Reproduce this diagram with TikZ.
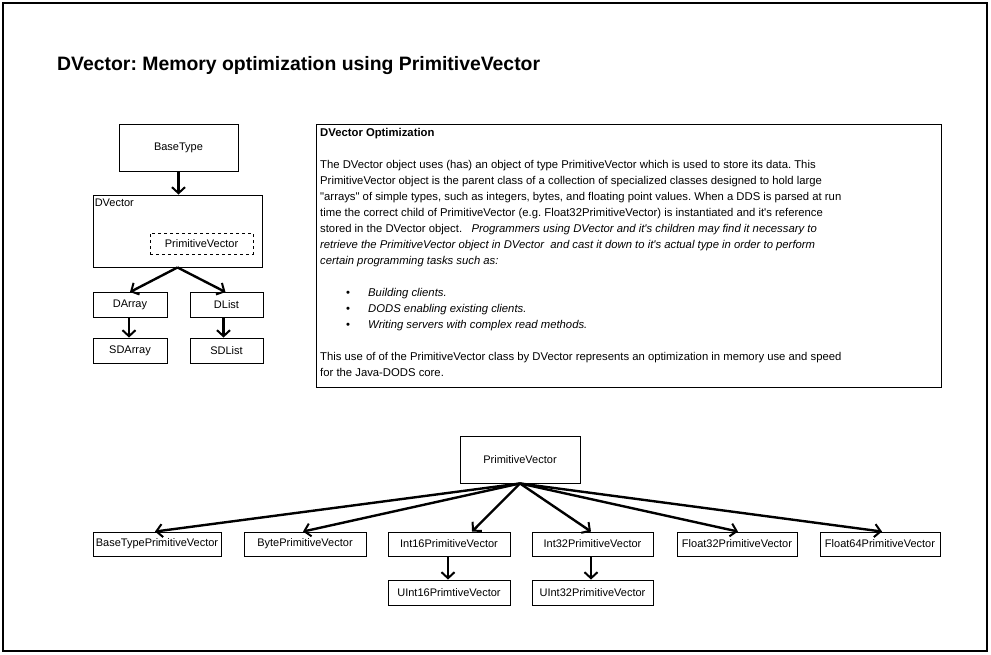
\documentclass[tikz,border=0pt]{standalone}
\usepackage{fontspec}
\setmainfont{Liberation Sans}[Ligatures=TeXOff]
\usetikzlibrary{arrows.meta,calc}
\frenchspacing
\begin{document}
\begin{tikzpicture}[x=1pt,y=-1pt,
  box/.style={draw,line width=0.9pt,inner sep=0pt,font=\fontsize{11}{13}\selectfont},
  arr/.style={line width=2.4pt,-{Straight Barb[length=6pt,width=13pt,line width=2pt]}},
  txt/.style={font=\fontsize{11.3}{16}\selectfont,align=left,inner sep=0pt,anchor=north west}]
\useasboundingbox[fill=white] (0,0) rectangle (991,654);
\draw[line width=1.4pt] (3,3) rectangle (987,651);
\node[anchor=base west,inner sep=0pt,font=\fontsize{19.4}{22}\selectfont\bfseries\frenchspacing] (title) at (57,70) {DVector: Memory optimization using PrimitiveVector};
% left hierarchy
\node[box,minimum width=119,minimum height=47] (bt) at (178.5,147.5) {BaseType};
\node[box,minimum width=169,minimum height=72] (dv) at (177.5,231) {};
\node[anchor=north west,inner sep=0pt,font=\fontsize{11}{13}\selectfont] (dvl) at ([xshift=2pt,yshift=-4pt]dv.north west) {DVector};
\node[box,dashed,minimum width=103,minimum height=21] (pvin) at (201.5,243.5) {PrimitiveVector};
\node[box,minimum width=74,minimum height=25] (da) at (130,305) {DArray};
\node[box,minimum width=73,minimum height=25] (dl) at (226.5,305) {DList};
\node[box,minimum width=74,minimum height=25] (sda) at (130,350.5) {SDArray};
\node[box,minimum width=73,minimum height=25] (sdl) at (226.5,350.5) {SDList};
\draw[arr] (bt.south) -- (dv.north -| bt.south);
\draw[arr] (dv.south) -- (da.north);
\draw[arr] (dv.south) -- ([xshift=-1pt]dl.north);
\draw[arr] ([xshift=-1pt]da.south) -- ([xshift=-1pt]sda.north);
\draw[arr] ([xshift=-3pt]dl.south) -- ([xshift=-3pt]sdl.north);
% text box
\node[draw,line width=0.9pt,minimum width=625,minimum height=263,inner sep=0pt] (tb) at (628.5,255.5) {};
\node[txt] (tbt) at (320,128.5) {%
\textbf{DVector Optimization}\\[16pt]
The DVector object uses (has) an object of type PrimitiveVector which is used to store its data. This\\
PrimitiveVector object is the parent class of a collection of specialized classes designed to hold large\\
"arrays" of simple types, such as integers, bytes, and floating point values. When a DDS is parsed at run\\
time the correct child of PrimitiveVector (e.g. Float32PrimitiveVector) is instantiated and it's reference\\
stored in the DVector object. \ \ \textit{Programmers using DVector and it's children may find it necessary to}\\
\textit{retrieve the PrimitiveVector object in DVector \ and cast it down to it's actual type in order to perform}\\
\textit{certain programming tasks such as:}\\[16pt]
\hspace*{26pt}\makebox[22pt][l]{•}\textit{Building clients.}\\
\hspace*{26pt}\makebox[22pt][l]{•}\textit{DODS enabling existing clients.}\\
\hspace*{26pt}\makebox[22pt][l]{•}\textit{Writing servers with complex read methods.}\\[16pt]
This use of of the PrimitiveVector class by DVector represents an optimization in memory use and speed\\
for the Java-DODS core.};
% bottom hierarchy
\node[box,minimum width=120,minimum height=47] (pv) at (520,459.5) {PrimitiveVector};
\node[box,minimum width=128,minimum height=24] (btp) at (157,544) {BaseTypePrimitiveVector};
\node[box,minimum width=122,minimum height=24] (byp) at (305,544) {BytePrimitiveVector};
\node[box,minimum width=122,minimum height=24] (i16) at (449,544) {Int16PrimitiveVector};
\node[box,minimum width=121,minimum height=24] (i32) at (592.5,544) {Int32PrimitiveVector};
\node[box,minimum width=120,minimum height=24] (f32) at (737,544) {Float32PrimitiveVector};
\node[box,minimum width=120,minimum height=24] (f64) at (880,544) {Float64PrimitiveVector};
\node[box,minimum width=122,minimum height=25] (u16) at (449,592.5) {UInt16PrimtiveVector};
\node[box,minimum width=121,minimum height=25] (u32) at (592.5,592.5) {UInt32PrimitiveVector};
\draw[arr] (pv.south) -- ([xshift=-2pt]btp.north);
\draw[arr] (pv.south) -- ([xshift=-2pt]byp.north);
\draw[arr] (pv.south) -- ([xshift=23pt]i16.north);
\draw[arr] (pv.south) -- ([xshift=-1.5pt]i32.north);
\draw[arr] (pv.south) -- ([xshift=1pt]f32.north);
\draw[arr] (pv.south) -- ([xshift=2pt]f64.north);
\draw[arr] ([xshift=-1pt]i16.south) -- ([xshift=-1pt]u16.north);
\draw[arr] ([xshift=-1.5pt]i32.south) -- ([xshift=-1.5pt]u32.north);
\end{tikzpicture}
\end{document}
